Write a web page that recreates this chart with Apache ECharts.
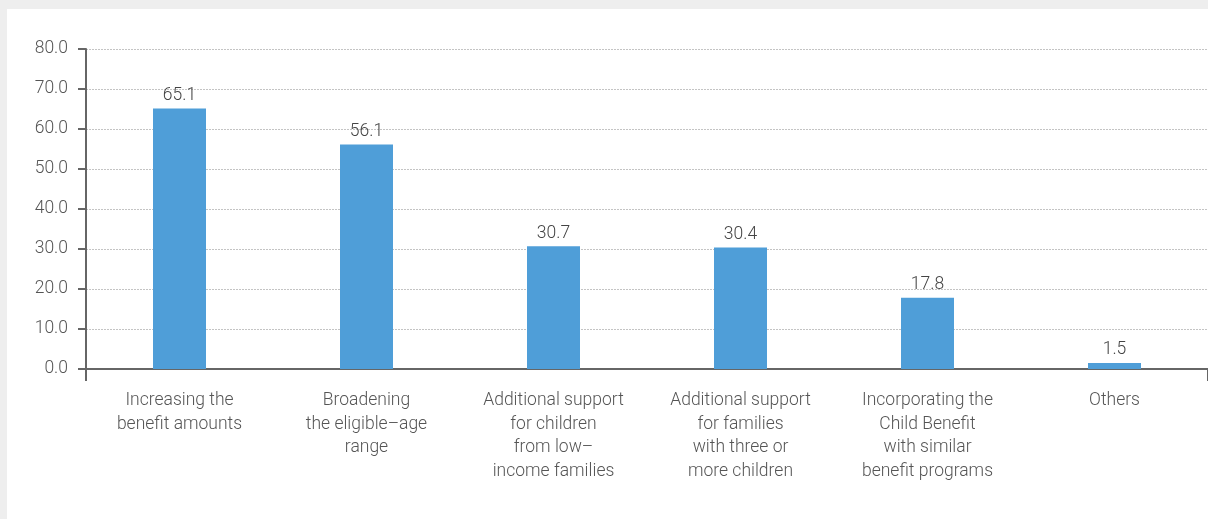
<!DOCTYPE html>
<html lang="en">
<head>
    <meta charset="UTF-8">
    <title>Child Benefit improvements</title>
    <script src="https://cdn.jsdelivr.net/npm/echarts@6/dist/echarts.min.js"></script>
    <style>
        html, body { margin: 0; padding: 0; background: #eeeeee; }
        /* white panel on grey page */
        .panel { position: absolute; left: 7px; top: 9px; width: 1201px; height: 510px; background: #ffffff; }
        #chart { width: 1201px; height: 510px; }
    </style>
</head>
<body>
    <div class="panel">
        <div id="chart"></div>
    </div>
    <script>
        // 类别
        const categories = [
            'Increasing the\nbenefit amounts',
            'Broadening\nthe eligible–age\nrange',
            'Additional support\nfor children\nfrom low–\nincome families',
            'Additional support\nfor families\nwith three or\nmore children',
            'Incorporating the\nChild Benefit\nwith similar\nbenefit programs',
            'Others'
        ]
        // 数值 (%)
        const values = [65.1, 56.1, 30.7, 30.4, 17.8, 1.5]
        // y轴刻度
        const yMin = 0
        const yMax = 80
        const yStep = 10

        const textColor = '#555555'
        const axisColor = '#666666'
        const font = 'Roboto'

        var myChart = echarts.init(document.getElementById('chart'))
        var option = {
            animation: false,
            grid: {
                left: 79,
                right: -4,
                top: 40,
                bottom: 150
            },
            xAxis: {
                type: 'category',
                data: categories,
                axisLine: { lineStyle: { color: axisColor, width: 2 } },
                axisTick: {
                    show: true,
                    length: 12,
                    interval: function (i) { return i === 0 },
                    lineStyle: { color: axisColor, width: 2 }
                },
                axisLabel: {
                    interval: 0,
                    margin: 20,
                    color: textColor,
                    fontFamily: font,
                    fontWeight: 300,
                    fontSize: 17.5,
                    lineHeight: 23.5,
                    align: 'center'
                }
            },
            yAxis: {
                type: 'value',
                min: yMin,
                max: yMax,
                interval: yStep,
                axisLine: { show: true, lineStyle: { color: axisColor, width: 2 } },
                axisTick: { show: true, length: 8, lineStyle: { color: axisColor, width: 2 } },
                axisLabel: {
                    margin: 18,
                    color: textColor,
                    fontFamily: font,
                    fontWeight: 300,
                    fontSize: 17.5,
                    formatter: function (v) { return v.toFixed(1) }
                },
                splitLine: {
                    show: true,
                    lineStyle: { color: '#c4c4c4', width: 1, type: [2, 1] }
                }
            },
            series: [
                {
                    type: 'bar',
                    data: values,
                    barWidth: 53,
                    itemStyle: { color: '#4f9ed8' },
                    label: {
                        show: true,
                        position: 'top',
                        distance: 4,
                        color: '#444444',
                        fontFamily: font,
                        fontWeight: 300,
                        fontSize: 17.5,
                        formatter: function (p) { return p.value.toFixed(1) }
                    }
                }
            ]
        }
        myChart.setOption(option)
    </script>
</body>
</html>
